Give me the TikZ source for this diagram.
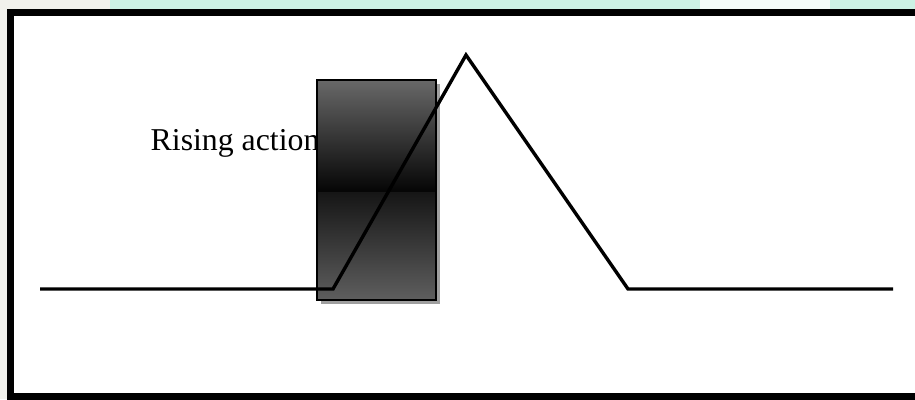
\documentclass[tikz,border=0pt]{standalone}
\usepackage{fontspec}
\setmainfont{Liberation Serif}
\usepackage{xcolor}
\definecolor{mintbg}{HTML}{CCF2E4}
\definecolor{paperbg}{HTML}{F1F1EC}
\definecolor{boxtop}{HTML}{686868}
\definecolor{boxmid}{HTML}{040404}
\definecolor{boxlow}{HTML}{161616}
\definecolor{boxbot}{HTML}{5E5E5E}

\begin{document}
\begin{tikzpicture}[x=1pt,y=-1pt,line cap=butt,
  plotline/.style={line width=3.4pt,line join=miter},
  framebox/.style={line width=6.7pt},
  label/.style={font=\fontsize{31.8}{36}\selectfont,inner sep=0pt,anchor=base west}]
\useasboundingbox (0,0) rectangle (915,399);
% background behind the slide
\fill[mintbg] (0,0) rectangle (915,399);
\fill[paperbg] (0,0) rectangle (8,399);
\fill[paperbg] (0,0) rectangle (110,9);
\fill[white!80!mintbg] (700,0) rectangle (830,9);
% slide frame
\begin{scope}
\clip (0,0) rectangle (915,399);
\fill[white] (10.7,12.3) rectangle (925,396.5);
\draw[framebox] (10.7,12.3) rectangle (925,396.5);
\end{scope}
% label
\node[label] (rise) at (150.5,150.5) {Rising action};
% shaded box with shadow
\fill[gray!75] (321,84) rectangle (440,304);
\shade[top color=boxtop,bottom color=boxmid] (317,80) rectangle (436,192.7);
\shade[top color=boxlow,bottom color=boxbot] (317,192.7) rectangle (436,300);
\draw[line width=1.5pt] (317,80) rectangle (436,300);
% plot line
\coordinate (start) at (40,289);
\coordinate (foot) at (333,289);
\coordinate (peak) at (466,55);
\coordinate (base) at (628,289);
\coordinate (stop) at (893,289);
\draw[plotline] (start) -- (foot) -- (peak) -- (base) -- (stop);
\end{tikzpicture}
\end{document}
